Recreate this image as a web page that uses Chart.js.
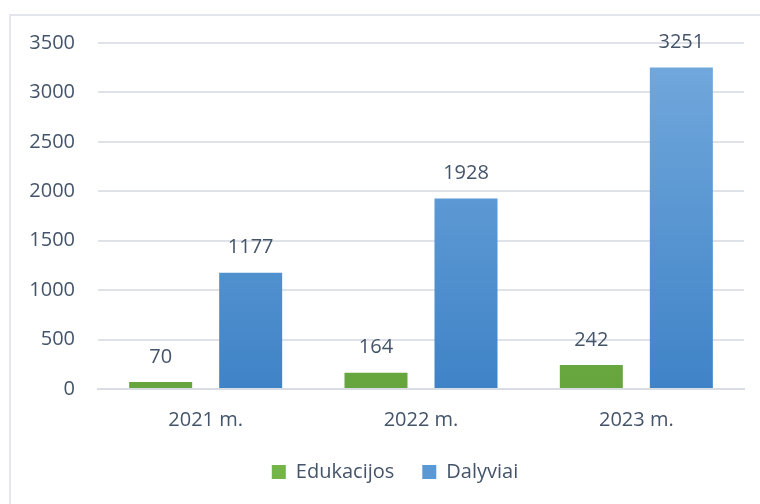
<!DOCTYPE html>
<html>
<head>
<meta charset="utf-8">
<script src="https://cdn.jsdelivr.net/npm/chart.js@4"></script>
<style>
  html, body { margin: 0; padding: 0; background: #fff; }
  #frame { position: absolute; left: 9px; top: 14px; width: 800px; height: 600px;
           border-left: 2px solid #e3e6ea; border-top: 2px solid #e3e6ea; }
  #wrap { position: absolute; left: 0; top: 0; width: 760px; height: 504px; }
</style>
</head>
<body>
<div id="frame"></div>
<div id="wrap"><canvas id="chart" width="760" height="504"></canvas></div>
<script>
// bar chart: education events vs participants per year
const categories = ['2021 m.', '2022 m.', '2023 m.'];
const edukacijos = [70, 164, 242];
const dalyviai = [1177, 1928, 3251];
const yTicks = [0, 500, 1000, 1500, 2000, 2500, 3000, 3500];

const TEXT = '#44546a';
const FONT = "'Open Sans', 'Liberation Sans', sans-serif";
const SIZE = 20;

function vGradient(ctx, top, bottom) {
  const area = ctx.chart.chartArea;
  if (!area) return bottom;
  const g = ctx.chart.ctx.createLinearGradient(0, area.top, 0, area.bottom);
  g.addColorStop(0, top);
  g.addColorStop(1, bottom);
  return g;
}

const valueLabels = {
  id: 'valueLabels',
  afterDatasetsDraw(chart) {
    const c = chart.ctx;
    c.save();
    c.font = SIZE + 'px ' + FONT;
    c.fillStyle = TEXT;
    c.textAlign = 'center';
    c.textBaseline = 'middle';
    chart.data.datasets.forEach((ds, i) => {
      chart.getDatasetMeta(i).data.forEach((bar, j) => {
        c.fillText(ds.data[j], bar.x, bar.y - 25);
      });
    });
    c.restore();
  }
};

// legend sits a bit right of canvas centre in the original
const legendShift = {
  id: 'legendShift',
  afterLayout(chart) {
    if (!chart.legend) return;
    chart.legend.left += 23;
    chart.legend.right += 23;
  }
};

new Chart(document.getElementById('chart'), {
  type: 'bar',
  data: {
    labels: categories,
    datasets: [
      {
        label: 'Edukacijos',
        data: edukacijos,
        backgroundColor: ctx => vGradient(ctx, '#86c25c', '#66a53d'),
        barPercentage: 0.7,
        categoryPercentage: 0.836,
      },
      {
        label: 'Dalyviai',
        data: dalyviai,
        backgroundColor: ctx => vGradient(ctx, '#74aadd', '#3f83c7'),
        barPercentage: 0.7,
        categoryPercentage: 0.836,
      }
    ]
  },
  options: {
    responsive: false,
    animation: false,
    layout: { padding: { top: 43, right: 16, bottom: 12, left: 0 } },
    plugins: {
      tooltip: { enabled: false },
      legend: {
        position: 'bottom',
        labels: {
          color: TEXT,
          font: { family: FONT, size: SIZE },
          boxWidth: 14,
          boxHeight: 14,
          padding: 28,
          generateLabels: chart => chart.data.datasets.map((ds, i) => ({
            text: ds.label,
            fillStyle: i === 0 ? '#74b54a' : '#5a99d6',
            strokeStyle: 'rgba(0,0,0,0)',
            lineWidth: 0,
            fontColor: TEXT,
            datasetIndex: i
          }))
        }
      }
    },
    scales: {
      x: {
        grid: { display: false, drawTicks: false },
        border: { color: '#d9dde3', width: 2 },
        ticks: { color: TEXT, font: { family: FONT, size: SIZE }, padding: 19 },
        afterFit: s => { s.height = 45; }
      },
      y: {
        min: 0,
        max: 3500,
        afterBuildTicks: s => { s.ticks = yTicks.map(v => ({ value: v })); },
        grid: { color: '#dfe3e9', lineWidth: 2, drawTicks: false },
        border: { display: false },
        ticks: {
          color: TEXT,
          font: { family: FONT, size: SIZE },
          padding: 23,
          callback: v => String(v)
        },
        afterFit: s => { s.width = 98; }
      }
    }
  },
  plugins: [valueLabels, legendShift]
});
</script>
</body>
</html>
